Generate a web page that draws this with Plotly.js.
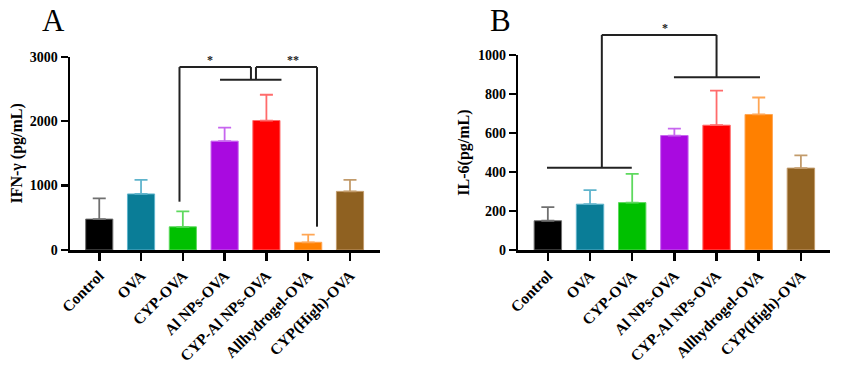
<!DOCTYPE html>
<html><head><meta charset="utf-8">
<script src="https://cdn.plot.ly/plotly-3.0.1.min.js"></script>
<style>html,body{margin:0;padding:0;background:#fff}#chart{width:849px;height:365px}</style>
</head><body><div id="chart"></div>
<script>
const categories = ["Control","OVA","CYP-OVA","Al NPs-OVA","CYP-Al NPs-OVA","Allhydrogel-OVA","CYP(High)-OVA"];
const ifnMean = [480, 870, 360, 1690, 2010, 120, 910];
const ifnErr  = [320, 220, 240, 210, 400, 120, 180];
const il6Mean = [150, 235, 243, 587, 640, 695, 420];
const il6Err  = [70, 72, 147, 35, 177, 87, 65];
const barColors = ["#000000","#0a7d97","#00c000","#a90ae0","#ff0000","#ff8000","#8f6121"];
const errColors = ["#707070","#5fb4cc","#5ed95e","#c766ef","#ff6b6b","#ffa654","#c29b6b"];
// significance brackets as polylines in (category index, value)
const ifnBrackets = [
  [[1.92,750],[1.92,2840],[3.63,2840],[3.63,2643]],
  [[3.75,2643],[3.75,2840],[5.21,2840],[5.21,362]],
  [[2.89,2643],[4.36,2643]]
];
const ifnStars = [{x:2.66, y:2840, t:"*"}, {x:4.63, y:2840, t:"**"}];
const il6Brackets = [
  [[-0.02,422],[1.99,422]],
  [[1.28,422],[1.28,1103],[4.0,1103],[4.0,886]],
  [[2.99,886],[5.03,886]]
];
const il6Stars = [{x:2.78, y:1103, t:"*"}];

const FONT = "Liberation Serif, Times New Roman, serif";
const panels = [
  {xa:"x", ya:"y", xd:[0,0.408], xr:[-0.70,6.72], yd:[0,0.991], yr:[0,3000], dtick:1000,
   mean:ifnMean, err:ifnErr, br:ifnBrackets, stars:ifnStars, title:"IFN-γ (pg/mL)", letter:"A", standoff:3},
  {xa:"x2", ya:"y2", xd:[0.5899,1], xr:[-0.70,6.69], yd:[0,1], yr:[0,1000], dtick:200,
   mean:il6Mean, err:il6Err, br:il6Brackets, stars:il6Stars, title:"IL-6(pg/mL)", letter:"B", standoff:5}
];

const traces = [];
const shapes = [];
const annotations = [];
const layout = {
  width:849, height:365, margin:{l:70, r:19, t:55, b:115},
  paper_bgcolor:"#fff", plot_bgcolor:"#fff", showlegend:false, barmode:"overlay",
  font:{family:FONT, color:"#000"}
};

panels.forEach((p, pi) => {
  const sx = pi === 0 ? "" : "2";
  const toPX = i => p.xd[0] + (i - p.xr[0]) / (p.xr[1] - p.xr[0]) * (p.xd[1] - p.xd[0]);
  const toPY = v => p.yd[0] + (v - p.yr[0]) / (p.yr[1] - p.yr[0]) * (p.yd[1] - p.yd[0]);
  categories.forEach((c, i) => {
    traces.push({
      type:"bar", x:[c], y:[p.mean[i]], xaxis:p.xa, yaxis:p.ya, width:0.65,
      marker:{color:barColors[i], line:{color:errColors[i], width:1}},
      error_y:{type:"data", symmetric:false, array:[p.err[i]], arrayminus:[0],
               color:errColors[i], thickness:1.8, width:6.5}
    });
  });
  layout["xaxis"+sx] = {
    domain:p.xd, anchor:p.ya, type:"category", range:p.xr, categoryorder:"array", categoryarray:categories,
    showline:true, linecolor:"#000", linewidth:2.5, ticks:"outside", ticklen:8, tickwidth:2.5, tickcolor:"#000",
    tickangle:-45, tickfont:{family:FONT, size:15.5, color:"#000", weight:"bold"}, showgrid:false, zeroline:false
  };
  layout["yaxis"+sx] = {
    domain:p.yd, anchor:p.xa, range:p.yr, dtick:p.dtick, tick0:0,
    showline:true, linecolor:"#000", linewidth:2.5, ticks:"outside", ticklen:7, tickwidth:2.5, tickcolor:"#000",
    tickfont:{family:FONT, size:14, color:"#000", weight:"bold"}, showgrid:false, zeroline:false,
    title:{text:p.title, font:{family:FONT, size:16, color:"#000", weight:"bold"}, standoff:p.standoff}
  };
  p.br.forEach(line => {
    for (let k = 0; k < line.length - 1; k++) {
      shapes.push({type:"line", xref:"paper", yref:"paper",
        x0:toPX(line[k][0]), y0:toPY(line[k][1]), x1:toPX(line[k+1][0]), y1:toPY(line[k+1][1]),
        line:{color:"#222", width:2}});
    }
  });
  p.stars.forEach(s => {
    annotations.push({xref:"paper", yref:"paper", x:toPX(s.x), y:toPY(s.y), text:s.t, showarrow:false,
      xanchor:"center", yanchor:"bottom", yshift:-2, font:{family:FONT, size:12, color:"#222", weight:"bold"}});
  });
  annotations.push({xref:"paper", yref:"paper", x:toPX(p.xr[0]) - (pi===0 ? 17/760 : 18/760), y:1 + 34/195,
    text:p.letter, showarrow:false, xanchor:"center", yanchor:"middle",
    font:{family:FONT, size:31, color:"#000"}});
});
layout.shapes = shapes;
layout.annotations = annotations;
Plotly.newPlot("chart", traces, layout, {displayModeBar:false, staticPlot:true});
</script></body></html>
